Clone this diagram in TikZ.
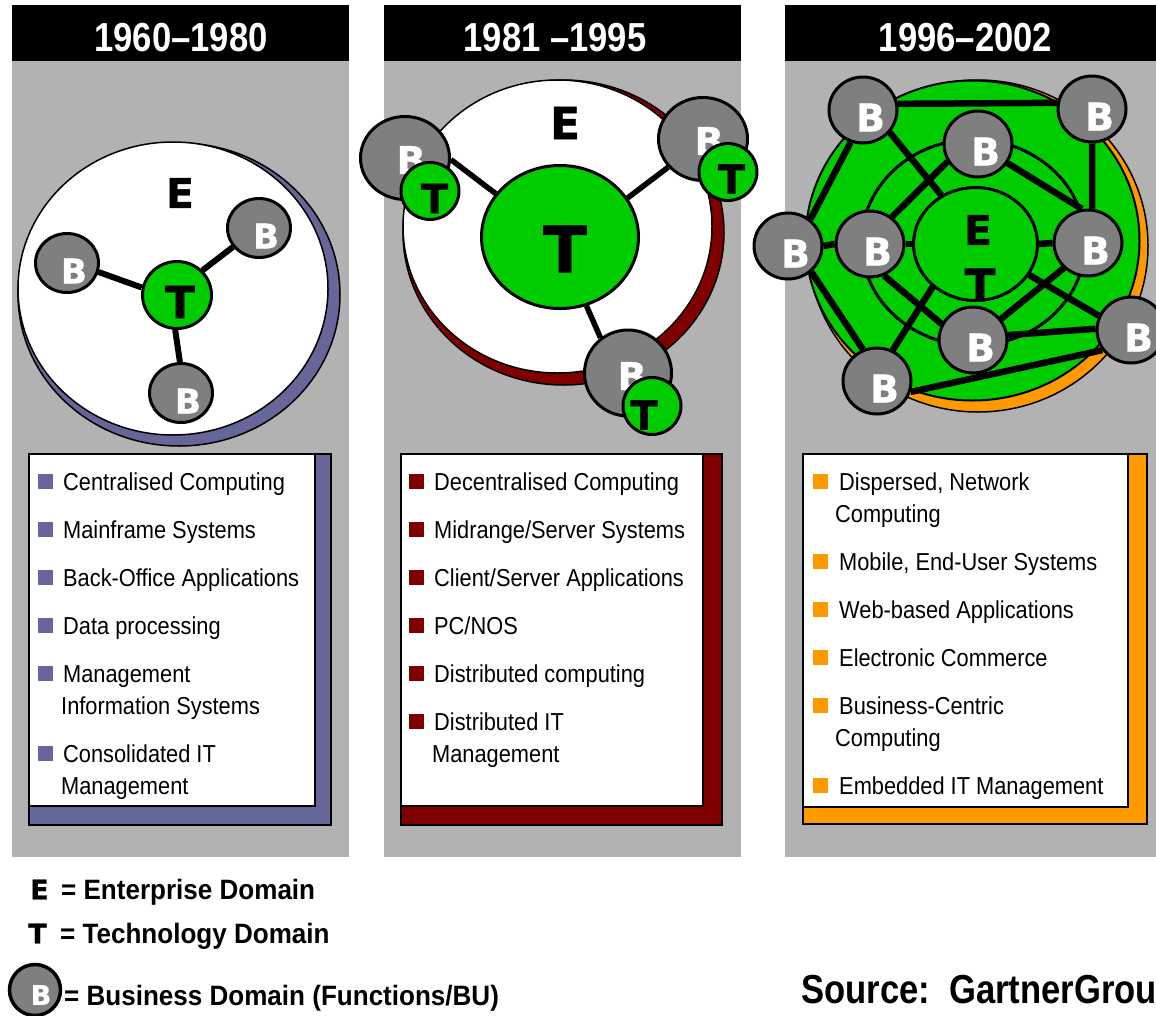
\documentclass[tikz,border=0pt]{standalone}
\usepackage{fontspec}
\setmainfont{Liberation Sans}
\newfontfamily\listfont{Liberation Sans}[FakeStretch=0.89]
\newfontfamily\headfont{Liberation Sans}[FakeStretch=0.855]
\newfontfamily\legfont{Liberation Sans}[FakeStretch=0.93]
\newfontfamily\heavyfont{DejaVu Sans}[FakeBold=1]
\usetikzlibrary{shapes.geometric}
\definecolor{panelgray}{HTML}{B2B2B2}
\definecolor{bgray}{HTML}{7F7F7F}
\definecolor{tgreen}{HTML}{00CC00}
\definecolor{slate}{HTML}{666699}
\definecolor{maroonc}{HTML}{800000}
\definecolor{amber}{HTML}{FF9900}
\pgfdeclarelayer{bg}
\pgfdeclarelayer{edges}
\pgfsetlayers{bg,edges,main}
\begin{document}
\begin{tikzpicture}[x=1pt,y=-1pt,
  bnode/.style={ellipse, draw=black, line width=3pt, fill=bgray, inner sep=0pt},
  tnode/.style={ellipse, draw=black, line width=3pt, fill=tgreen, inner sep=0pt},
  bl/.style={text=white, inner sep=0pt, font=\heavyfont\bfseries\fontsize{#1}{#1}\selectfont},
  ltr/.style={text=black, inner sep=0pt, font=\heavyfont\bfseries\fontsize{#1}{#1}\selectfont},
  conn/.style={line width=#1, line cap=butt},
  headtxt/.style={text=white, inner sep=0pt, font=\headfont\bfseries\fontsize{40.5}{40.5}\selectfont},
  itemtxt/.style={anchor=base west, inner sep=0pt, font=\listfont\fontsize{24.5}{28}\selectfont},
  legtxt/.style={anchor=base west, inner sep=0pt, font=\legfont\bfseries\fontsize{28}{28}\selectfont},
  listbox/.style={draw=black, line width=1.5pt},
]
\useasboundingbox (0,0) rectangle (1156,1015);
\clip (0,0) rectangle (1156,1015);

\begin{pgfonlayer}{bg}
\fill[white] (0,0) rectangle (1156,1015);
% panels
\fill[panelgray] (12,61) rectangle (349,857);
\fill[black] (12,5) rectangle (349,61);
\fill[panelgray] (384,61) rectangle (741,857);
\fill[black] (384,5) rectangle (741,61);
\fill[panelgray] (785,61) rectangle (1160,857);
\fill[black] (785,5) rectangle (1160,61);
% list boxes
\draw[listbox, fill=slate] (29,454) rectangle (331,825);
\draw[listbox, fill=white] (29,454) rectangle (315,806);
\draw[listbox, fill=maroonc] (401,454) rectangle (722,825);
\draw[listbox, fill=white] (401,454) rectangle (703,806);
\draw[listbox, fill=amber] (803,454) rectangle (1147,824);
\draw[listbox, fill=white] (803,454) rectangle (1128,807);
% panel 1 enterprise ellipse
\draw[fill=slate, line width=1.5pt] (179,294.5) ellipse [x radius=161, y radius=151.5];
\draw[fill=white, line width=1.5pt] (173,288.5) ellipse [x radius=155, y radius=146.5];
% panel 2 enterprise ellipse
\draw[fill=maroonc, line width=1.5pt] (563.5,232.5) ellipse [x radius=160.5, y radius=152.5];
\draw[fill=white, line width=1.5pt] (557.5,226.5) ellipse [x radius=154.5, y radius=146.5];
% panel 3 enterprise ellipse
\draw[fill=amber, line width=1.5pt] (978,246) ellipse [x radius=170, y radius=166];
\draw[fill=tgreen, line width=2pt] (972.5,240.5) ellipse [x radius=167, y radius=160];
\draw[line width=3pt] (973.5,242.5) ellipse [x radius=112, y radius=103];
\end{pgfonlayer}

% headers
\node[headtxt] (h1) at (181,37.5) {1960–1980};
\node[headtxt] (h2) at (555,37.5) {1981 –1995};
\node[headtxt] (h3) at (965.5,37.5) {1996–2002};

% ---------- panel 1 ----------
\node[ltr=41] (e1) at (180,193) {E};
\node[tnode, minimum width=69, minimum height=67] (t1) at (177,295) {};
\node[ltr=44] (t1txt) at (180,302) {T};
\node[bnode, minimum width=63, minimum height=59, label={[bl=34, xshift=7pt, yshift=-8pt]center:B}] (b1a) at (67,263) {};
\node[bnode, minimum width=63, minimum height=59, label={[bl=34, xshift=7pt, yshift=-8pt]center:B}] (b1b) at (259,228) {};
\node[bnode, minimum width=63, minimum height=59, label={[bl=34, xshift=7pt, yshift=-8pt]center:B}] (b1c) at (181,393) {};

% ---------- panel 2 ----------
\node[ltr=44] (e2) at (565,123) {E};
\node[tnode, minimum width=157, minimum height=143] (t2) at (560,237) {};
\node[ltr=64] (t2txt) at (565,249) {T};
\node[bnode, minimum width=89, minimum height=83, label={[bl=38, xshift=6pt, yshift=-2pt]center:B}] (b2a) at (405,158) {};
\node[tnode, minimum width=58, minimum height=57] (s2a) at (430,191) {};
\node[ltr=40] (s2atxt) at (434.5,198.5) {T};
\node[bnode, minimum width=89, minimum height=83, label={[bl=38, xshift=6pt, yshift=-2pt]center:B}] (b2b) at (703,139) {};
\node[tnode, minimum width=58, minimum height=57] (s2b) at (728,172) {};
\node[ltr=40] (s2btxt) at (731.5,179) {T};
\node[bnode, minimum width=87, minimum height=86, label={[bl=38, xshift=4pt, yshift=-3pt]center:B}] (b2c) at (628,373) {};
\node[tnode, minimum width=58, minimum height=57] (s2c) at (652,406) {};
\node[ltr=40] (s2ctxt) at (644,415) {T};

% ---------- panel 3 ----------
\node[tnode, minimum width=124, minimum height=113] (core) at (975.5,244) {};
\node[ltr=41] (e3) at (978,230) {E};
\node[ltr=45] (t3txt) at (980,285) {T};
\foreach \n/\x/\y in {b3a/863/110, b3b/1092/109, b3c/978/144, b3d/788/246, b3e/870/244, b3f/1088/243, b3g/973/340, b3h/877/381, b3i/1131/330}
  \node[bnode, minimum width=68, minimum height=66, label={[bl=38, xshift=7.5pt, yshift=-7.5pt]center:B}] (\n) at (\x,\y) {};

% ---------- connectors ----------
\begin{pgfonlayer}{edges}
\draw[conn=6pt] (t1.168) -- (b1a.-16);
\draw[conn=6pt] (t1.44) -- (b1b.-144);
\draw[conn=6pt] (t1.-93) -- (b1c.92);
\draw[conn=5.5pt] (t2.146) -- (b2a.-2);
\draw[conn=5.5pt] (t2.30) -- (b2b.-141);
\draw[conn=5.5pt] (t2.-69) -- (b2c.128);
\draw[conn=6.5pt] (b3a.10) -- (b3b.170);
\draw[conn=6.5pt] (b3b.south) -- (b3f.83);
\draw[conn=6.5pt] (b3a.-40) -- (core.125);
\draw[conn=6.5pt] (b3a.-111) -- (b3d.50);
\draw[conn=6.5pt] (b3c.-150) -- (b3e.51);
\draw[conn=6.5pt] (b3c.-33) -- (b3f.100);
\draw[conn=6.5pt] (b3d.east) -- (b3e.west);
\draw[conn=6.5pt] (b3e.east) -- (core.west);
\draw[conn=6.5pt] (core.east) -- (b3f.west);
\draw[conn=6.5pt] (b3d.-48) -- (b3h.114);
\draw[conn=6.5pt] (b3e.-66) -- (b3g.153);
\draw[conn=6.5pt] (b3h.63) -- (core.-135);
\draw[conn=6.5pt] (b3f.-134) -- (b3g.37);
\draw[conn=6.5pt] (core.-30) -- (b3i.156);
\draw[conn=6.5pt] (b3g.8) -- (b3i.178);
\draw[conn=6.5pt] (b3h.-18) -- (b3i.-145);
\end{pgfonlayer}

% ---------- list texts ----------
\foreach \y/\t in {481/{Centralised Computing}, 529/{Mainframe Systems}, 577/{Back-Office Applications}, 625/{Data processing}, 673/{Management}, 753/{Consolidated IT}} {
  \fill[slate] (38,\y-7.5) rectangle (53,\y+7.5);
  \node[itemtxt] at (63,\y+9) {\t};
}
\node[itemtxt] (p1c1) at (61,714) {Information Systems};
\node[itemtxt] (p1c2) at (61,794) {Management};

\foreach \y/\t in {481/{Decentralised Computing}, 529/{Midrange/Server Systems}, 577/{Client/Server Applications}, 625/{PC/NOS}, 673/{Distributed computing}, 721/{Distributed IT}} {
  \fill[maroonc] (409,\y-7.5) rectangle (424,\y+7.5);
  \node[itemtxt] at (434,\y+9) {\t};
}
\node[itemtxt] (p2c1) at (432,762) {Management};

\foreach \y/\t in {481/{Dispersed, Network}, 561/{Mobile, End-User Systems}, 609/{Web-based Applications}, 657/{Electronic Commerce}, 705/{Business-Centric}, 785/{Embedded IT Management}} {
  \fill[amber] (813,\y-7.5) rectangle (828,\y+7.5);
  \node[itemtxt] at (839,\y+9) {\t};
}
\node[itemtxt] (p3c1) at (835,522) {Computing};
\node[itemtxt] (p3c2) at (835,746) {Computing};

% ---------- legend ----------
\node[ltr=27] (legE) at (39.5,889.5) {E};
\node[legtxt] (leg1) at (61,899) {= Enterprise Domain};
\node[ltr=27] (legT) at (37.5,933.5) {T};
\node[legtxt] (leg2) at (60,943) {= Technology Domain};
\node[bnode, line width=3.5pt, minimum width=51, minimum height=51, label={[bl=27, xshift=6pt, yshift=-5pt]center:B}] (legB) at (35,990) {};
\node[legtxt] (leg3) at (64,1005) {= Business Domain (Functions/BU)};

% ---------- source ----------
\node[anchor=base west, inner sep=0pt, font=\headfont\bfseries\fontsize{40.5}{40.5}\selectfont] (src) at (801,1003) {Source:\hspace{19pt}GartnerGrou};
\end{tikzpicture}
\end{document}
